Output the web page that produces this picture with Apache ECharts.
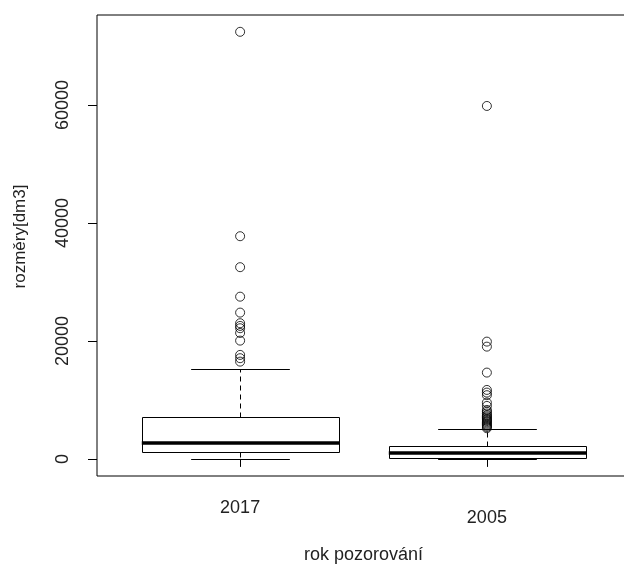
<!DOCTYPE html>
<html>
<head>
<meta charset="utf-8">
<script src="https://cdn.jsdelivr.net/npm/echarts@6/dist/echarts.min.js"></script>
<style>
  html, body { margin: 0; padding: 0; background: #fff; }
  #main { width: 624px; height: 565px; }
</style>
</head>
<body>
<div id="main"></div>
<script>
// kategorie (roky pozorování)
var categories = ["2017", "2005"];
// pětičíselné shrnutí krabic
var mins = [20, 0];
var q1s = [1130, 290];
var medians = [2760, 960];
var q3s = [7120, 2250];
var maxs = [15250, 5080];
// odlehlé hodnoty
var outliers2017 = [72400, 37750, 32500, 27500, 24800, 23000, 22540, 22150, 21350, 20050, 17630, 17070, 16490];
var outliers2005 = [59830, 19880, 19030, 14630, 11690, 11240, 10800, 9540, 8980, 8300, 8000, 7700, 7400, 7200,
  7000, 6800, 6600, 6400, 6200, 6000, 5800, 5600, 5400, 5200];
var yTicks = [0, 20000, 40000, 60000];

var boxData = categories.map(function (c, i) {
  return [i + 1, mins[i], q1s[i], medians[i], q3s[i], maxs[i]];
});
var outlierData = [];
[outliers2017, outliers2005].forEach(function (arr, i) {
  arr.forEach(function (v) { outlierData.push([i + 1, v]); });
});

var font = "'Liberation Sans', Arial, sans-serif";
var textColor = "#222";

var myChart = echarts.init(document.getElementById("main"));

function px(v) { return Math.round(v) + 0.5; }

myChart.setOption({
  animation: false,
  backgroundColor: "#fff",
  grid: {
    left: 97,
    top: 15,
    width: 533,
    height: 461,
    outerBoundsMode: "none",
    containLabel: false,
    show: true,
    borderColor: "#000",
    borderWidth: 1,
    backgroundColor: "transparent"
  },
  xAxis: {
    type: "value",
    min: 0.42,
    max: 2.58,
    name: "rok pozorování",
    nameLocation: "middle",
    nameGap: 70,
    nameTextStyle: { fontSize: 18, color: textColor, fontFamily: font },
    axisLine: { show: false },
    splitLine: { show: false },
    axisTick: {
      show: true,
      length: 8,
      customValues: [1, 2],
      lineStyle: { color: "#000" }
    },
    axisLabel: {
      customValues: [1, 2],
      margin: 23,
      fontSize: 18,
      color: textColor,
      fontFamily: font,
      formatter: function (v) {
        var i = Math.round(v) - 1;
        return "{s" + (i % 2) + "|" + categories[i] + "}";
      },
      rich: {
        s0: { fontSize: 18, color: textColor, fontFamily: font },
        s1: { fontSize: 18, color: textColor, fontFamily: font, padding: [10, 0, 0, 0] }
      }
    }
  },
  yAxis: {
    type: "value",
    min: -2900,
    max: 75250,
    name: "rozměry[dm3]",
    nameLocation: "middle",
    nameGap: 68,
    nameTextStyle: { fontSize: 17, color: textColor, fontFamily: font, padding: [0, 0, 0, 18] },
    axisLine: { show: false },
    splitLine: { show: false },
    axisTick: {
      show: true,
      length: 9,
      customValues: yTicks,
      lineStyle: { color: "#000" }
    },
    axisLabel: {
      customValues: yTicks,
      rotate: 90,
      margin: 25,
      fontSize: 18,
      color: textColor,
      fontFamily: font,
      formatter: function (v) { return String(Math.round(v)); }
    }
  },
  series: [
    {
      name: "box",
      type: "custom",
      data: boxData,
      encode: { x: 0, y: [1, 2, 3, 4, 5] },
      renderItem: function (params, api) {
        var x = api.value(0);
        var lo = api.coord([x, api.value(1)]);
        var q1 = api.coord([x, api.value(2)]);
        var md = api.coord([x, api.value(3)]);
        var q3 = api.coord([x, api.value(4)]);
        var hi = api.coord([x, api.value(5)]);
        var bw = api.size([0.8, 0])[0];
        var sw = api.size([0.4, 0])[0];
        var cx = px(lo[0]);
        var line = { stroke: "#000", lineWidth: 1 };
        var dashed = { stroke: "#000", lineWidth: 1, lineDash: [5, 4] };
        return {
          type: "group",
          children: [
            // vousy
            { type: "line", shape: { x1: cx, y1: px(q3[1]), x2: cx, y2: px(hi[1]) }, style: dashed },
            { type: "line", shape: { x1: cx, y1: px(q1[1]), x2: cx, y2: px(lo[1]) }, style: dashed },
            { type: "line", shape: { x1: cx - sw / 2, y1: px(hi[1]), x2: cx + sw / 2, y2: px(hi[1]) }, style: line },
            { type: "line", shape: { x1: cx - sw / 2, y1: px(lo[1]), x2: cx + sw / 2, y2: px(lo[1]) }, style: line },
            // krabice
            {
              type: "rect",
              shape: { x: px(cx - bw / 2), y: px(q3[1]), width: Math.round(bw), height: Math.round(q1[1] - q3[1]) },
              style: { fill: "#fff", stroke: "#000", lineWidth: 1 }
            },
            // medián
            {
              type: "line",
              shape: { x1: cx - bw / 2, y1: Math.round(md[1]), x2: cx + bw / 2, y2: Math.round(md[1]) },
              style: { stroke: "#000", lineWidth: 3.5 }
            }
          ]
        };
      }
    },
    {
      name: "outliers",
      type: "scatter",
      data: outlierData,
      symbol: "circle",
      symbolSize: 9,
      itemStyle: { color: "transparent", borderColor: "#000", borderWidth: 1 },
      z: 3
    }
  ]
});
</script>
</body>
</html>
